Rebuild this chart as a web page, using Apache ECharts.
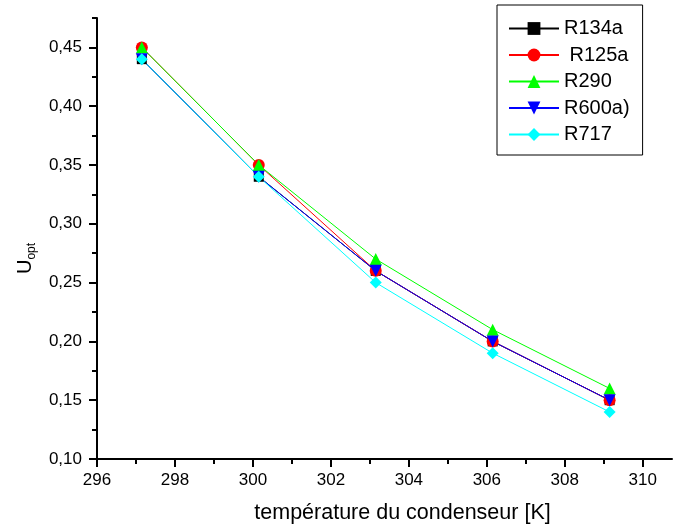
<!DOCTYPE html>
<html>
<head>
<meta charset="utf-8">
<script src="https://cdn.jsdelivr.net/npm/echarts@6/dist/echarts.min.js"></script>
<style>
  html, body { margin: 0; padding: 0; background: #fff; }
  #chart { width: 674px; height: 532px; }
</style>
</head>
<body>
<div id="chart"></div>
<script>
  // températures du condenseur [K]
  var temperatures = [297.15, 300.15, 303.15, 306.15, 309.15];

  var seriesNames = ['R134a', ' R125a', 'R290', 'R600a)', 'R717'];
  var r134a = [0.44, 0.34, 0.26, 0.20, 0.15];
  var r125a = [0.45, 0.35, 0.26, 0.20, 0.15];
  var r290  = [0.45, 0.35, 0.27, 0.21, 0.16];
  var r600a = [0.44, 0.34, 0.26, 0.20, 0.15];
  var r717  = [0.44, 0.34, 0.25, 0.19, 0.14];

  var xMajorTicks = [296, 298, 300, 302, 304, 306, 308, 310];
  var xMinorTicks = [297, 299, 301, 303, 305, 307, 309];
  var yMajorTicks = [0.10, 0.15, 0.20, 0.25, 0.30, 0.35, 0.40, 0.45];
  var yMinorTicks = [0.125, 0.175, 0.225, 0.275, 0.325, 0.375, 0.425, 0.475];

  var font = 'Liberation Sans, Arial, sans-serif';

  function pairs(values) {
    return temperatures.map(function (t, i) { return [t, values[i]]; });
  }

  function makeSeries(name, values, color, symbol) {
    return {
      name: name,
      type: 'line',
      data: pairs(values),
      symbol: symbol,
      symbolSize: symbol === 'rect' ? 10 : 12,
      showSymbol: true,
      color: color,
      lineStyle: { color: color, width: 1 },
      itemStyle: { color: color },
      animation: false
    };
  }

  var chart = echarts.init(document.getElementById('chart'));
  chart.setOption({
    backgroundColor: '#fff',
    animation: false,
    grid: { left: 97, right: 2, top: 18, bottom: 73 },
    legend: {
      orient: 'vertical',
      left: 497,
      top: 5,
      data: seriesNames,
      itemWidth: 50,
      itemHeight: 16,
      itemGap: 6.5,
      padding: [13.5, 13, 10.5, 11],
      borderColor: '#000',
      borderWidth: 1,
      textStyle: { color: '#000', fontSize: 20, fontFamily: font }
    },
    xAxis: [{
      type: 'value',
      min: 296,
      max: 310.75,
      position: 'bottom',
      name: 'température du condenseur [K]',
      nameLocation: 'middle',
      nameGap: 43,
      nameTextStyle: { color: '#000', fontSize: 21.5, fontFamily: font, padding: [0, 0, 0, 36] },
      axisLine: { show: true, lineStyle: { color: '#000', width: 2 } },
      axisTick: { show: true, customValues: xMajorTicks, length: 8, lineStyle: { color: '#000', width: 2 } },
      axisLabel: {
        customValues: xMajorTicks,
        margin: 13,
        color: '#000', fontSize: 17, fontFamily: font
      },
      splitLine: { show: false }
    }, {
      type: 'value',
      min: 296,
      max: 310.75,
      position: 'bottom',
      axisLine: { show: false },
      axisTick: { show: true, customValues: xMinorTicks, length: 5, lineStyle: { color: '#000', width: 2 } },
      axisLabel: { show: false },
      splitLine: { show: false }
    }],
    yAxis: [{
      type: 'value',
      min: 0.10,
      max: 0.475,
      position: 'left',
      name: '{u|U}{s|opt}',
      nameLocation: 'middle',
      nameGap: 55,
      nameTextStyle: {
        color: '#000', fontFamily: font, padding: [0, 40, 0, 0],
        rich: {
          u: { fontSize: 20, fontFamily: font, color: '#000', lineHeight: 26 },
          s: { fontSize: 12, fontFamily: font, color: '#000', lineHeight: 26, verticalAlign: 'bottom', padding: [10, 0, 0, 0] }
        }
      },
      axisLine: { show: true, lineStyle: { color: '#000', width: 2 } },
      axisTick: { show: true, customValues: yMajorTicks, length: 8, lineStyle: { color: '#000', width: 2 } },
      axisLabel: {
        customValues: yMajorTicks,
        margin: 15,
        color: '#000', fontSize: 17, fontFamily: font,
        formatter: function (v) { return v.toFixed(2).replace('.', ','); }
      },
      splitLine: { show: false }
    }, {
      type: 'value',
      min: 0.10,
      max: 0.475,
      position: 'left',
      axisLine: { show: false },
      axisTick: { show: true, customValues: yMinorTicks, length: 5, lineStyle: { color: '#000', width: 2 } },
      axisLabel: { show: false },
      splitLine: { show: false }
    }],
    series: [
      makeSeries(seriesNames[0], r134a, '#000000', 'rect'),
      makeSeries(seriesNames[1], r125a, '#ff0000', 'circle'),
      makeSeries(seriesNames[2], r290, '#00ff00', 'triangle'),
      makeSeries(seriesNames[3], r600a, '#0000ff', 'path://M0,0 L10,0 L5,10 Z'),
      makeSeries(seriesNames[4], r717, '#00ffff', 'diamond')
    ]
  });
</script>
</body>
</html>
